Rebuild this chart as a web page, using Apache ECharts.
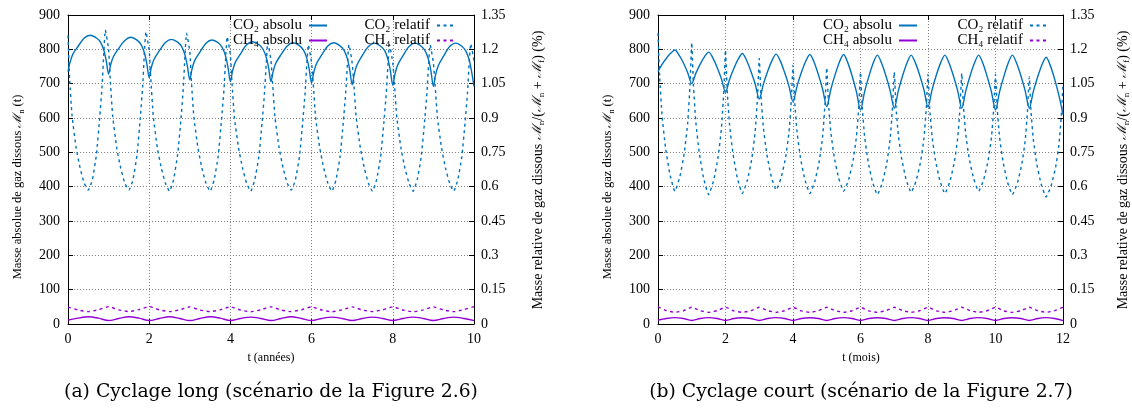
<!DOCTYPE html>
<html><head><meta charset="utf-8">
<script src="https://cdn.jsdelivr.net/npm/echarts@6/dist/echarts.min.js"></script>
<style>html,body{margin:0;padding:0;background:#fff}#c{width:1132px;height:410px}</style>
</head><body><div id="c"></div><script>
// ---------- (a) Cyclage long : t en années ----------
const tLongAbs = [
 0,0.05,0.12,0.25,0.4,0.55,0.7,0.8,0.88,0.94,
 1,1.05,1.12,1.25,1.4,1.55,1.7,1.8,1.88,1.94,
 2,2.05,2.12,2.25,2.4,2.55,2.7,2.8,2.88,2.94,
 3,3.05,3.12,3.25,3.4,3.55,3.7,3.8,3.88,3.94,
 4,4.05,4.12,4.25,4.4,4.55,4.7,4.8,4.88,4.94,
 5,5.05,5.12,5.25,5.4,5.55,5.7,5.8,5.88,5.94,
 6,6.05,6.12,6.25,6.4,6.55,6.7,6.8,6.88,6.94,
 7,7.05,7.12,7.25,7.4,7.55,7.7,7.8,7.88,7.94,
 8,8.05,8.12,8.25,8.4,8.55,8.7,8.8,8.88,8.94,
 9,9.05,9.12,9.25,9.4,9.55,9.7,9.8,9.88,9.94,
 10];
const co2AbsLong = [
 735,762,786,809,833,841,833,821,798,768,
 728,755,779,803,826,835,827,814,791,759,
 718,746,771,796,820,829,821,808,784,752,
 711,740,767,792,818,827,819,805,781,748,
 706,735,762,787,813,822,814,801,778,747,
 706,734,760,785,810,819,811,798,775,743,
 702,731,758,784,810,819,810,797,773,740,
 697,727,755,782,808,818,809,796,771,738,
 695,726,754,781,808,818,809,795,770,736,
 692,724,752,780,808,818,809,795,770,736,
 692];
const tLongRel = [
 0,0.04,0.1,0.2,0.3,0.4,0.5,0.6,0.7,0.78,0.84,0.88,0.92,
 1,1.04,1.1,1.2,1.3,1.4,1.5,1.6,1.7,1.78,1.84,1.88,1.92,
 2,2.04,2.1,2.2,2.3,2.4,2.5,2.6,2.7,2.78,2.84,2.88,2.92,
 3,3.04,3.1,3.2,3.3,3.4,3.5,3.6,3.7,3.78,3.84,3.88,3.92,
 4,4.04,4.1,4.2,4.3,4.4,4.5,4.6,4.7,4.78,4.84,4.88,4.92,
 5,5.04,5.1,5.2,5.3,5.4,5.5,5.6,5.7,5.78,5.84,5.88,5.92,
 6,6.04,6.1,6.2,6.3,6.4,6.5,6.6,6.7,6.78,6.84,6.88,6.92,
 7,7.04,7.1,7.2,7.3,7.4,7.5,7.6,7.7,7.78,7.84,7.88,7.92,
 8,8.04,8.1,8.2,8.3,8.4,8.5,8.6,8.7,8.78,8.84,8.88,8.92,
 9,9.04,9.1,9.2,9.3,9.4,9.5,9.6,9.7,9.78,9.84,9.88,9.92,
 10];
const co2RelLong = [
 1.26,1.07,0.91,0.77,0.68,0.615,0.585,0.63,0.74,0.90,1.04,1.18,1.284,
 1.20,1.07,0.91,0.77,0.68,0.615,0.585,0.63,0.74,0.90,1.04,1.18,1.277,
 1.195,1.07,0.91,0.77,0.68,0.615,0.58,0.63,0.74,0.89,1.03,1.17,1.27,
 1.19,1.06,0.905,0.77,0.68,0.615,0.58,0.63,0.735,0.89,1.02,1.15,1.255,
 1.175,1.05,0.90,0.77,0.68,0.615,0.58,0.63,0.73,0.88,1.01,1.13,1.23,
 1.15,1.05,0.90,0.77,0.68,0.615,0.585,0.63,0.73,0.88,1.01,1.13,1.22,
 1.14,1.05,0.90,0.77,0.68,0.615,0.58,0.63,0.73,0.88,1.01,1.13,1.22,
 1.14,1.05,0.90,0.77,0.68,0.615,0.58,0.63,0.73,0.88,1.01,1.13,1.22,
 1.14,1.05,0.90,0.77,0.68,0.615,0.58,0.63,0.73,0.88,1.01,1.13,1.22,
 1.14,1.05,0.90,0.77,0.68,0.615,0.58,0.63,0.73,0.88,1.01,1.135,1.225,
 1.15];
const tLongCH4 = [
 0,0.25,0.5,0.75,1,1.25,1.5,1.75,2,2.25,2.5,2.75,3,3.25,3.5,3.75,4,4.25,4.5,4.75,
 5,5.25,5.5,5.75,6,6.25,6.5,6.75,7,7.25,7.5,7.75,8,8.25,8.5,8.75,9,9.25,9.5,9.75,10];
const ch4AbsLong = [
 11,17,21,17, 10,16,21,17, 10,16,21,16, 10,16,21,17, 10,16,20,16,
 10,16,21,16, 10,16,20,16, 10,16,20,16, 10,16,20,16, 10,16,20,16, 10];
const ch4RelLong = [
 0.074,0.061,0.054,0.062, 0.076,0.062,0.054,0.063, 0.076,0.062,0.054,0.062, 0.075,0.061,0.054,0.062,
 0.075,0.061,0.053,0.062, 0.075,0.061,0.054,0.062, 0.075,0.061,0.053,0.062, 0.075,0.061,0.054,0.062,
 0.075,0.061,0.053,0.062, 0.075,0.061,0.054,0.063, 0.076];

// ---------- (b) Cyclage court : t en mois ----------
const tShortAbs = [
 0,0.12,0.25,0.38,0.5,0.62,0.75,0.88,
 1,1.12,1.25,1.38,1.5,1.62,1.75,1.88,
 2,2.12,2.25,2.38,2.5,2.62,2.75,2.88,
 3,3.12,3.25,3.38,3.5,3.62,3.75,3.88,
 4,4.12,4.25,4.38,4.5,4.62,4.75,4.88,
 5,5.12,5.25,5.38,5.5,5.62,5.75,5.88,
 6,6.12,6.25,6.38,6.5,6.62,6.75,6.88,
 7,7.12,7.25,7.38,7.5,7.62,7.75,7.88,
 8,8.12,8.25,8.38,8.5,8.62,8.75,8.88,
 9,9.12,9.25,9.38,9.5,9.62,9.75,9.88,
 10,10.12,10.25,10.38,10.5,10.62,10.75,10.88,
 11,11.12,11.25,11.38,11.5,11.62,11.75,11.88,
 12];
const co2AbsShort = [
 735,756,774,789,798,784,761,732,
 700,730,757,779,792,776,748,714,
 675,712,745,772,788,769,737,699,
 655,698,736,768,786,767,733,693,
 647,693,733,766,785,764,727,683,
 633,683,727,764,785,762,723,676,
 623,676,722,761,783,761,724,679,
 628,679,724,761,783,762,726,682,
 632,682,726,762,783,761,724,679,
 628,679,724,761,783,761,722,676,
 623,676,722,761,783,761,724,679,
 628,677,720,756,777,754,714,665,
 610];
const tShortRel = [
 0,0.05,0.12,0.22,0.35,0.5,0.65,0.78,0.88,0.95,
 1,1.05,1.12,1.22,1.35,1.5,1.65,1.78,1.88,1.95,
 2,2.05,2.12,2.22,2.35,2.5,2.65,2.78,2.88,2.95,
 3,3.05,3.12,3.22,3.35,3.5,3.65,3.78,3.88,3.95,
 4,4.05,4.12,4.22,4.35,4.5,4.65,4.78,4.88,4.95,
 5,5.05,5.12,5.22,5.35,5.5,5.65,5.78,5.88,5.95,
 6,6.05,6.12,6.22,6.35,6.5,6.65,6.78,6.88,6.95,
 7,7.05,7.12,7.22,7.35,7.5,7.65,7.78,7.88,7.95,
 8,8.05,8.12,8.22,8.35,8.5,8.65,8.78,8.88,8.95,
 9,9.05,9.12,9.22,9.35,9.5,9.65,9.78,9.88,9.95,
 10,10.05,10.12,10.22,10.35,10.5,10.65,10.78,10.88,10.95,
 11,11.05,11.12,11.22,11.35,11.5,11.65,11.78,11.88,11.95,
 12];
const co2RelShort = [
 1.27,1.077,0.911,0.773,0.656,0.58,0.645,0.749,0.879,1.048,
 1.23,1.044,0.884,0.751,0.638,0.565,0.628,0.729,0.856,1.02,
 1.197,1.021,0.871,0.746,0.639,0.57,0.629,0.723,0.841,0.995,
 1.16,0.999,0.861,0.746,0.648,0.585,0.64,0.727,0.836,0.977,
 1.13,0.973,0.839,0.727,0.632,0.57,0.625,0.713,0.823,0.966,
 1.12,0.969,0.839,0.731,0.639,0.58,0.632,0.715,0.819,0.954,
 1.10,0.95,0.822,0.715,0.624,0.565,0.619,0.704,0.811,0.95,
 1.10,0.953,0.827,0.722,0.633,0.575,0.627,0.709,0.812,0.946,
 1.09,0.944,0.82,0.716,0.627,0.57,0.623,0.707,0.812,0.948,
 1.095,0.951,0.827,0.724,0.637,0.58,0.631,0.713,0.815,0.947,
 1.09,0.943,0.817,0.712,0.623,0.565,0.617,0.699,0.802,0.936,
 1.08,0.933,0.807,0.702,0.613,0.555,0.605,0.684,0.783,0.911,
 1.05];
const tShortCH4 = [
 0,0.25,0.5,0.75,1,1.25,1.5,1.75,2,2.25,2.5,2.75,3,3.25,3.5,3.75,4,4.25,4.5,4.75,
 5,5.25,5.5,5.75,6,6.25,6.5,6.75,7,7.25,7.5,7.75,8,8.25,8.5,8.75,9,9.25,9.5,9.75,
 10,10.25,10.5,10.75,11,11.25,11.5,11.75,12];
const ch4AbsShort = [
 11,16,18.5,16, 10,16,18.5,16, 10,16,18,16, 10,16,18.5,16, 10,16,18,16,
 10,16,18.5,16, 10,16,18,16, 10,16,18.5,16, 10,16,18,16, 10,16,18.5,16,
 10,16,18,16, 10,16,18.5,16, 10];
const ch4RelShort = [
 0.075,0.058,0.051,0.058, 0.073,0.058,0.051,0.058, 0.073,0.057,0.051,0.058, 0.073,0.058,0.051,0.058,
 0.073,0.057,0.051,0.058, 0.073,0.058,0.051,0.058, 0.073,0.057,0.051,0.058, 0.073,0.058,0.051,0.058,
 0.073,0.057,0.051,0.058, 0.073,0.058,0.051,0.058, 0.073,0.057,0.051,0.058, 0.073,0.058,0.051,0.058,
 0.073];

// ---------- axes / labels ----------
const xMaxLong = 10, xMaxShort = 12, xStep = 2;
const yAbsMax = 900, yAbsStep = 100;
const yRelMax = 1.35, yRelStep = 0.15;
const seriesNames = ['CO₂ absolu', 'CO₂ relatif', 'CH₄ absolu', 'CH₄ relatif'];
const xNames = ['t (années)', 't (mois)'];
const captions = ['(a) Cyclage long (scénario de la Figure 2.6)', '(b) Cyclage court (scénario de la Figure 2.7)'];

const FONT = 'Liberation Serif';
const BLUE = '#0072bd', PURPLE = '#9400d3';
const zip = (ts, vs) => ts.map((t, i) => [t, vs[i]]);

function xAx(grid, max, top) {
  return {
    gridIndex: grid, type: 'value', min: 0, max: max, interval: xStep,
    position: top ? 'top' : 'bottom',
    axisLine: { show: true, onZero: false, lineStyle: { color: '#000', width: 1 } },
    axisTick: { show: true, inside: true, length: 5, lineStyle: { color: '#000' } },
    axisLabel: { show: !top, margin: 8, color: '#000', fontFamily: FONT, fontSize: 14 },
    splitLine: { show: !top, lineStyle: { color: '#808080', type: [1, 2], width: 1 } }
  };
}
function yAx(grid, max, step, right) {
  return {
    gridIndex: grid, type: 'value', min: 0, max: max, interval: step,
    position: right ? 'right' : 'left',
    axisLine: { show: true, onZero: false, lineStyle: { color: '#000', width: 1 } },
    axisTick: { show: true, inside: true, length: 5, lineStyle: { color: '#000' } },
    axisLabel: { margin: right ? 7 : 8, color: '#000', fontFamily: FONT, fontSize: 14,
      formatter: v => String(+v.toFixed(2)) },
    splitLine: { show: !right, lineStyle: { color: '#808080', type: [1, 2], width: 1 } }
  };
}
function line(name, data, xi, yi, color, dashed) {
  return {
    name, type: 'line', data, xAxisIndex: xi, yAxisIndex: yi,
    symbol: 'none', smooth: dashed ? 0.15 : 0.3, silent: true,
    lineStyle: { color, width: 1.4, type: dashed ? [3, 3.5] : 'solid' },
    itemStyle: { color }
  };
}
function legendCol(names, right) {
  return {
    data: names, orient: 'vertical', right: right, top: 18, align: 'right', padding: 0,
    itemWidth: 18, itemHeight: 2, itemGap: 0, selectedMode: false,
    itemStyle: { opacity: 0 },
    textStyle: { fontFamily: FONT, fontSize: 15, lineHeight: 15, color: '#000', padding: [0, 2, 0, 0] }
  };
}
const richY = {
  m: { fontFamily: 'DejaVu Serif', fontSize: 12, fontStyle: 'italic' },
  s: { fontFamily: FONT, fontSize: 8, lineHeight: 8, verticalAlign: 'bottom' }
};
const richR = {
  m: { fontFamily: 'DejaVu Serif', fontSize: 13, fontStyle: 'italic' },
  s: { fontFamily: FONT, fontSize: 9, lineHeight: 9, verticalAlign: 'bottom' }
};
function vText(x, y, text, size, rich) {
  return { type: 'text', x, y, rotation: Math.PI / 2,
    style: { text, rich, fontFamily: FONT, fontSize: size, lineHeight: size + 3,
      fill: '#000', align: 'center', verticalAlign: 'middle' } };
}
function hText(x, y, text, size, family) {
  return { type: 'text', x, y,
    style: { text, fontFamily: family || FONT, fontSize: size, fill: '#000', align: 'center', verticalAlign: 'middle' } };
}
const yNameAbs = 'Masse absolue de gaz dissous {m|ℳ}{s|n} (t)';
const yNameRel = 'Masse relative de gaz dissous {m|ℳ}{s|n}/({m|ℳ}{s|n} + {m|ℳ}{s|f}) (%)';

const chart = echarts.init(document.getElementById('c'), null, { renderer: 'canvas' });
chart.setOption({
  animation: false,
  backgroundColor: '#fff',
  grid: [
    { left: 68, top: 15, width: 406, height: 309 },
    { left: 658, top: 15, width: 405, height: 309 }
  ],
  xAxis: [xAx(0, xMaxLong, false), xAx(0, xMaxLong, true), xAx(1, xMaxShort, false), xAx(1, xMaxShort, true)],
  yAxis: [yAx(0, yAbsMax, yAbsStep, false), yAx(0, yRelMax, yRelStep, true),
          yAx(1, yAbsMax, yAbsStep, false), yAx(1, yRelMax, yRelStep, true)],
  legend: [
    legendCol([seriesNames[0], seriesNames[2]], 1132 - 328),
    legendCol([seriesNames[1], seriesNames[3]], 1132 - 456),
    legendCol([seriesNames[0], seriesNames[2]], 1132 - 918),
    legendCol([seriesNames[1], seriesNames[3]], 1132 - 1049)
  ],
  series: [
    line(seriesNames[0], zip(tLongAbs, co2AbsLong), 0, 0, BLUE, false),
    line(seriesNames[1], zip(tLongRel, co2RelLong), 0, 1, BLUE, true),
    line(seriesNames[2], zip(tLongCH4, ch4AbsLong), 0, 0, PURPLE, false),
    line(seriesNames[3], zip(tLongCH4, ch4RelLong), 0, 1, PURPLE, true),
    line(seriesNames[0], zip(tShortAbs, co2AbsShort), 2, 2, BLUE, false),
    line(seriesNames[1], zip(tShortRel, co2RelShort), 2, 3, BLUE, true),
    line(seriesNames[2], zip(tShortCH4, ch4AbsShort), 2, 2, PURPLE, false),
    line(seriesNames[3], zip(tShortCH4, ch4RelShort), 2, 3, PURPLE, true)
  ],
  graphic: [
    vText(18, 187, yNameAbs, 12.5, richY),
    vText(538, 170, yNameRel, 14, richR),
    vText(608, 187, yNameAbs, 12.5, richY),
    vText(1123, 170, yNameRel, 14, richR),
    hText(271, 358, xNames[0], 12),
    hText(861, 358, xNames[1], 12),
    hText(271, 392, captions[0], 18.8, 'DejaVu Serif'),
    hText(861, 392, captions[1], 18.8, 'DejaVu Serif')
  ]
});
</script></body></html>
